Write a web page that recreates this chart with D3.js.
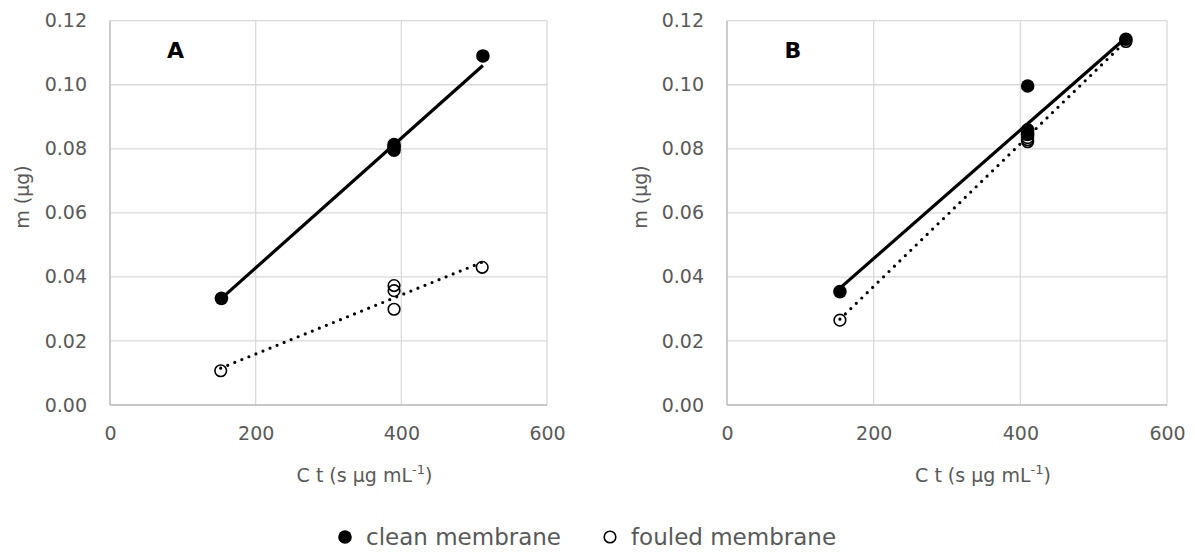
<!DOCTYPE html>
<html><head><meta charset="utf-8">
<script src="https://cdn.jsdelivr.net/npm/d3@7"></script>
<style>
body{margin:0;background:#fff}
text{font-family:"DejaVu Sans",sans-serif;fill:#595959}
</style>
</head><body>
<svg id="c" width="1195" height="552"></svg>
<script>
// ---- data ----
const xTicks = [0, 200, 400, 600];
const yTicks = [0, 0.02, 0.04, 0.06, 0.08, 0.10, 0.12];
const panelLabels = ["A", "B"];
const seriesNames = ["clean membrane", "fouled membrane"];

const cleanA_x  = [153, 390, 390, 390, 512];
const cleanA_y  = [0.0333, 0.0813, 0.0805, 0.0796, 0.109];
const fouledA_x = [152, 390, 390, 390, 511];
const fouledA_y = [0.0107, 0.0373, 0.0357, 0.0299, 0.0430];

const cleanB_x  = [154, 410, 410, 410, 544];
const cleanB_y  = [0.0354, 0.0996, 0.0859, 0.0845, 0.1142];
const fouledB_x = [154, 410, 410, 410, 544];
const fouledB_y = [0.0265, 0.0835, 0.0828, 0.0822, 0.1135];

// trendline end points
const trendA_clean  = [[153, 0.0333], [512, 0.1060]];
const trendA_fouled = [[152, 0.0115], [511, 0.0446]];
const trendB_clean  = [[154, 0.0365], [544, 0.1147]];
const trendB_fouled = [[154, 0.0268], [544, 0.1136]];

// ---- drawing ----
const svg = d3.select("#c");
const zip = (xs, ys) => xs.map((x, i) => [x, ys[i]]);

const panels = [
  {label: panelLabels[0], left: 110, right: 547, top: 20.7, bottom: 405,
   clean: zip(cleanA_x, cleanA_y), fouled: zip(fouledA_x, fouledA_y),
   tClean: trendA_clean, tFouled: trendA_fouled, ytitleX: 22},
  {label: panelLabels[1], left: 727, right: 1167, top: 20.7, bottom: 405,
   clean: zip(cleanB_x, cleanB_y), fouled: zip(fouledB_x, fouledB_y),
   tClean: trendB_clean, tFouled: trendB_fouled, ytitleX: 640}
];

panels.forEach(p => {
  const x = d3.scaleLinear().domain([0, 600]).range([p.left, p.right]);
  const y = d3.scaleLinear().domain([0, 0.12]).range([p.bottom, p.top]);
  const g = svg.append("g");

  // gridlines
  g.append("g").selectAll("line.h").data(yTicks).join("line")
    .attr("x1", p.left).attr("x2", p.right)
    .attr("y1", d => y(d)).attr("y2", d => y(d))
    .attr("stroke", "#d9d9d9").attr("stroke-width", 1.3);
  g.append("g").selectAll("line.v").data(xTicks).join("line")
    .attr("y1", p.top).attr("y2", p.bottom)
    .attr("x1", d => x(d)).attr("x2", d => x(d))
    .attr("stroke", "#d9d9d9").attr("stroke-width", 1.3);
  // axis lines
  g.append("line").attr("x1", p.left).attr("x2", p.right).attr("y1", p.bottom).attr("y2", p.bottom)
    .attr("stroke", "#bfbfbf").attr("stroke-width", 1.3);
  g.append("line").attr("x1", p.left).attr("x2", p.left).attr("y1", p.top).attr("y2", p.bottom)
    .attr("stroke", "#bfbfbf").attr("stroke-width", 1.3);

  // tick labels via d3 axes
  const yAxis = d3.axisLeft(y).tickValues(yTicks).tickFormat(d3.format(".2f")).tickSize(0).tickPadding(23);
  const ya = g.append("g").attr("transform", `translate(${p.left},0)`).call(yAxis);
  const xAxis = d3.axisBottom(x).tickValues(xTicks).tickFormat(d3.format("d")).tickSize(0).tickPadding(22);
  const xa = g.append("g").attr("transform", `translate(0,${p.bottom})`).call(xAxis);
  [ya, xa].forEach(a => {
    a.select(".domain").remove();
    a.selectAll("text").attr("font-size", 19).attr("fill", "#595959")
      .attr("font-family", "DejaVu Sans, sans-serif");
  });

  // axis titles
  g.append("text").attr("transform", `translate(${p.ytitleX},197) rotate(-90)`)
    .attr("text-anchor", "middle").attr("dominant-baseline", "central")
    .attr("font-size", 19).text("m (µg)");
  const xt = g.append("text").attr("x", (p.left + p.right) / 2 + 36).attr("y", 482)
    .attr("text-anchor", "middle").attr("font-size", 19);
  xt.append("tspan").text("C t (s µg mL");
  xt.append("tspan").attr("dy", -8).attr("font-size", 13).text("-1");
  xt.append("tspan").attr("dy", 8).text(")");

  // panel label
  g.append("text").attr("x", x(90)).attr("y", p.top + 37)
    .attr("text-anchor", "middle").attr("font-size", 22).attr("font-weight", "bold")
    .style("fill", "#000").text(p.label);

  // markers: fouled (hollow) then clean (filled)
  g.append("g").selectAll("circle").data(p.fouled).join("circle")
    .attr("cx", d => x(d[0])).attr("cy", d => y(d[1])).attr("r", 5.8)
    .attr("fill", "none").attr("stroke", "#000").attr("stroke-width", 1.6);
  g.append("g").selectAll("circle").data(p.clean).join("circle")
    .attr("cx", d => x(d[0])).attr("cy", d => y(d[1])).attr("r", 6.8)
    .attr("fill", "#000");

  // trendlines
  const line = d3.line().x(d => x(d[0])).y(d => y(d[1]));
  g.append("path").datum(p.tClean).attr("d", line)
    .attr("fill", "none").attr("stroke", "#000").attr("stroke-width", 3.2);
  g.append("path").datum(p.tFouled).attr("d", line)
    .attr("fill", "none").attr("stroke", "#000").attr("stroke-width", 3.2)
    .attr("stroke-linecap", "round").attr("stroke-dasharray", "0 7.6");
});

// legend
const leg = svg.append("g");
const legItems = [
  {name: seriesNames[0], filled: true, cx: 345, tx: 366},
  {name: seriesNames[1], filled: false, cx: 610, tx: 631}
];
legItems.forEach(it => {
  leg.append("circle").attr("cx", it.cx).attr("cy", 537).attr("r", it.filled ? 6.8 : 5.8)
    .attr("fill", it.filled ? "#000" : "none").attr("stroke", "#000").attr("stroke-width", it.filled ? 0 : 1.6);
  leg.append("text").attr("x", it.tx).attr("y", 545).attr("font-size", 23).text(it.name);
});
</script>
</body></html>
